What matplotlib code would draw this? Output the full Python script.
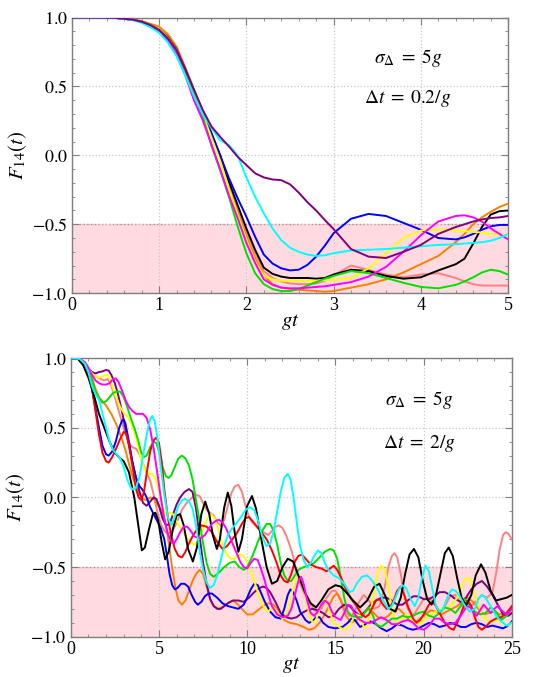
import numpy as np
import matplotlib
matplotlib.use("Agg")
import matplotlib.pyplot as plt
from matplotlib.ticker import MultipleLocator, FixedLocator

# ---------------- top panel data (sigma = 5g, dt = 0.2/g) ----------------
t_top = [0, 0.3, 0.5, 0.7, 0.8, 0.9, 1.0, 1.1, 1.2, 1.3, 1.4, 1.5, 1.6, 1.7, 1.8, 1.9,
         2.0, 2.1, 2.2, 2.3, 2.4, 2.5, 2.6, 2.7, 2.8, 2.9, 3.0, 3.2, 3.4, 3.6, 3.8,
         4.0, 4.2, 4.4, 4.5, 4.6, 4.7, 4.8, 4.9, 5.0]

orange_top = [1.0, 1.0, 0.998, 0.987, 0.975, 0.955, 0.935, 0.88, 0.79, 0.64, 0.48, 0.32,
              0.15, -0.01, -0.22, -0.40, -0.59, -0.745, -0.87, -0.935, -0.96, -0.97, -0.975,
              -0.98, -0.985, -0.99, -0.985, -0.96, -0.935, -0.90, -0.85, -0.79, -0.73, -0.63,
              -0.57, -0.50, -0.45, -0.41, -0.375, -0.35]
black_top = [1.0, 1.0, 0.998, 0.985, 0.97, 0.948, 0.915, 0.86, 0.77, 0.62, 0.46, 0.31,
             0.16, 0.0, -0.19, -0.36, -0.53, -0.685, -0.815, -0.86, -0.88, -0.89, -0.89,
             -0.89, -0.895, -0.89, -0.865, -0.83, -0.84, -0.875, -0.895, -0.885, -0.835, -0.79,
             -0.75, -0.64, -0.52, -0.43, -0.405, -0.40]
yellow_top = [1.0, 1.0, 0.998, 0.985, 0.97, 0.948, 0.915, 0.855, 0.765, 0.615, 0.455, 0.30,
              0.13, -0.04, -0.24, -0.43, -0.61, -0.77, -0.875, -0.90, -0.91, -0.91, -0.91,
              -0.91, -0.91, -0.905, -0.905, -0.89, -0.82, -0.71, -0.60, -0.545, -0.54, -0.545,
              -0.55, -0.555, -0.56, -0.57, -0.575, -0.58]
salmon_top = [1.0, 1.0, 0.998, 0.985, 0.97, 0.946, 0.91, 0.85, 0.76, 0.61, 0.45, 0.30,
              0.145, -0.02, -0.21, -0.38, -0.56, -0.71, -0.84, -0.89, -0.915, -0.93, -0.935,
              -0.935, -0.93, -0.91, -0.87, -0.80, -0.83, -0.865, -0.885, -0.865, -0.855, -0.89,
              -0.915, -0.935, -0.945, -0.945, -0.945, -0.945]
blue_top = [1.0, 1.0, 0.998, 0.985, 0.97, 0.946, 0.91, 0.85, 0.765, 0.625, 0.47, 0.32,
            0.16, 0.0, -0.165, -0.31, -0.445, -0.59, -0.72, -0.785, -0.82, -0.835, -0.83,
            -0.795, -0.735, -0.655, -0.565, -0.46, -0.425, -0.44, -0.49, -0.54, -0.60, -0.61,
            -0.595, -0.57, -0.54, -0.515, -0.505, -0.505]
purple_top = [1.0, 1.0, 0.998, 0.985, 0.97, 0.946, 0.91, 0.85, 0.765, 0.625, 0.475, 0.33,
              0.21, 0.135, 0.065, -0.01, -0.07, -0.13, -0.16, -0.175, -0.18, -0.21, -0.27,
              -0.34, -0.40, -0.47, -0.535, -0.68, -0.735, -0.745, -0.70, -0.65, -0.57, -0.52,
              -0.50, -0.48, -0.465, -0.455, -0.45, -0.44]
green_top = [1.0, 1.0, 0.998, 0.985, 0.97, 0.946, 0.91, 0.85, 0.755, 0.605, 0.44, 0.28,
             0.07, -0.11, -0.30, -0.515, -0.71, -0.855, -0.935, -0.97, -0.985, -0.985, -0.97,
             -0.945, -0.92, -0.895, -0.875, -0.84, -0.855, -0.89, -0.925, -0.955, -0.965, -0.94,
             -0.915, -0.885, -0.85, -0.83, -0.84, -0.865]
magenta_top = [1.0, 1.0, 0.998, 0.984, 0.968, 0.94, 0.905, 0.835, 0.735, 0.58, 0.40, 0.255,
               0.08, -0.10, -0.29, -0.455, -0.635, -0.78, -0.90, -0.94, -0.96, -0.965, -0.965,
               -0.96, -0.955, -0.95, -0.94, -0.92, -0.88, -0.81, -0.70, -0.58, -0.48, -0.44,
               -0.435, -0.45, -0.48, -0.53, -0.57, -0.61]
cyan_top = [1.0, 1.0, 0.997, 0.982, 0.962, 0.93, 0.89, 0.82, 0.72, 0.58, 0.43, 0.30,
            0.20, 0.11, 0.075, 0.0, -0.16, -0.30, -0.42, -0.53, -0.615, -0.67, -0.70,
            -0.72, -0.73, -0.725, -0.71, -0.69, -0.685, -0.68, -0.67, -0.66, -0.65, -0.645,
            -0.64, -0.635, -0.63, -0.62, -0.60, -0.57]

# ---------------- bottom panel data (sigma = 5g, dt = 2/g), (gt, F) pairs ----------------
black_bot = [(0, 1.0), (0.4, 0.995), (0.7, 0.95), (1.0, 0.86), (1.3, 0.74), (1.6, 0.60),
             (1.9, 0.50), (2.2, 0.40), (2.5, 0.32), (2.8, 0.28), (3.0, 0.26), (3.3, 0.18),
             (3.6, 0.0), (3.85, -0.22), (4.03, -0.38), (4.2, -0.36), (4.45, -0.22),
             (4.65, -0.12), (4.8, -0.11), (4.95, -0.16), (5.15, -0.32), (5.35, -0.445),
             (5.55, -0.39), (5.8, -0.22), (6.0, -0.13), (6.2, -0.12), (6.4, -0.2),
             (6.65, -0.37), (6.92, -0.46), (7.15, -0.36), (7.4, -0.12), (7.62, -0.03),
             (7.85, -0.12), (8.05, -0.27), (8.28, -0.37), (8.45, -0.3), (8.7, -0.07),
             (8.9, 0.035), (9.1, -0.06), (9.3, -0.26), (9.5, -0.39), (9.7, -0.3),
             (10.0, -0.06), (10.27, 0.01), (10.5, -0.08), (10.8, -0.3), (11.1, -0.5),
             (11.4, -0.62), (11.7, -0.6), (12.0, -0.5), (12.3, -0.44), (12.6, -0.46),
             (12.9, -0.56), (13.3, -0.69), (13.6, -0.76), (13.9, -0.79), (14.2, -0.74),
             (14.6, -0.66), (15.0, -0.63), (15.3, -0.64), (15.6, -0.68), (16.0, -0.74),
             (16.4, -0.79), (16.8, -0.74), (17.2, -0.64), (17.5, -0.62), (17.8, -0.7),
             (18.1, -0.8), (18.4, -0.82), (18.7, -0.72), (18.95, -0.55), (19.2, -0.41),
             (19.45, -0.37), (19.7, -0.43), (19.95, -0.6), (20.2, -0.73), (20.45, -0.77),
             (20.7, -0.7), (20.95, -0.55), (21.2, -0.4), (21.42, -0.36), (21.65, -0.42),
             (21.9, -0.58), (22.15, -0.72), (22.4, -0.78), (22.7, -0.7), (22.95, -0.56),
             (23.25, -0.48), (23.5, -0.54), (23.8, -0.67), (24.1, -0.74), (24.4, -0.73),
             (24.7, -0.72), (25.0, -0.7)]

red_bot = [(0, 1.0), (0.5, 0.995), (0.8, 0.96), (1.0, 0.9), (1.2, 0.79), (1.4, 0.62),
           (1.6, 0.45), (1.8, 0.32), (2.0, 0.26), (2.15, 0.25), (2.35, 0.29), (2.6, 0.36),
           (2.8, 0.42), (3.0, 0.47), (3.15, 0.46), (3.3, 0.38), (3.5, 0.22), (3.7, 0.06),
           (3.85, 0.0), (4.0, -0.02), (4.15, 0.04), (4.3, 0.17), (4.5, 0.33), (4.7, 0.41),
           (4.85, 0.43), (5.0, 0.39), (5.15, 0.26), (5.3, 0.06), (5.5, -0.14), (5.7, -0.28),
           (5.9, -0.37), (6.1, -0.42), (6.3, -0.43), (6.5, -0.39), (6.7, -0.33), (6.9, -0.28),
           (7.1, -0.24), (7.4, -0.2), (7.7, -0.21), (8.0, -0.25), (8.3, -0.32), (8.6, -0.37),
           (8.85, -0.35), (9.1, -0.31), (9.4, -0.26), (9.7, -0.19), (9.9, -0.15),
           (10.1, -0.14), (10.3, -0.17), (10.5, -0.2), (10.8, -0.25), (11.1, -0.3),
           (11.4, -0.38), (11.7, -0.48), (11.9, -0.56), (12.1, -0.6), (12.3, -0.61),
           (12.5, -0.55), (12.7, -0.46), (12.9, -0.42), (13.1, -0.41), (13.3, -0.44),
           (13.6, -0.48), (13.9, -0.5), (14.2, -0.51), (14.5, -0.53), (14.7, -0.51),
           (14.9, -0.49), (15.1, -0.52), (15.3, -0.57), (15.6, -0.66), (15.9, -0.73),
           (16.2, -0.78), (16.5, -0.84), (16.7, -0.86), (16.9, -0.84), (17.1, -0.79),
           (17.3, -0.74), (17.5, -0.73), (17.7, -0.77), (17.9, -0.8), (18.1, -0.79),
           (18.3, -0.74), (18.5, -0.67), (18.7, -0.64), (18.9, -0.7), (19.1, -0.78),
           (19.4, -0.87), (19.6, -0.9), (19.8, -0.88), (20.0, -0.84), (20.3, -0.77),
           (20.5, -0.75), (20.7, -0.78), (20.9, -0.83), (21.2, -0.9), (21.5, -0.94),
           (21.7, -0.95), (21.9, -0.9), (22.1, -0.84), (22.3, -0.77), (22.5, -0.74),
           (22.7, -0.78), (22.9, -0.86), (23.1, -0.93), (23.3, -0.95), (23.5, -0.93),
           (23.8, -0.89), (24.1, -0.87), (24.4, -0.86), (24.7, -0.83), (25.0, -0.78)]

blue_bot = [(0, 1.0), (0.5, 0.995), (0.8, 0.96), (1.0, 0.9), (1.2, 0.78), (1.4, 0.64),
            (1.6, 0.5), (1.8, 0.37), (2.0, 0.31), (2.15, 0.3), (2.35, 0.33), (2.55, 0.4),
            (2.75, 0.5), (2.9, 0.55), (3.0, 0.56), (3.1, 0.53), (3.3, 0.4), (3.5, 0.25),
            (3.7, 0.14), (3.9, 0.08), (4.1, 0.05), (4.3, 0.0), (4.5, -0.07), (4.7, -0.12),
            (4.9, -0.17), (5.1, -0.22), (5.3, -0.3), (5.45, -0.42), (5.6, -0.55),
            (5.75, -0.63), (5.9, -0.66), (6.05, -0.65), (6.25, -0.62), (6.45, -0.62),
            (6.65, -0.64), (6.85, -0.7), (7.05, -0.75), (7.2, -0.77), (7.4, -0.75),
            (7.6, -0.71), (7.8, -0.69), (8.0, -0.69), (8.3, -0.72), (8.6, -0.76),
            (8.9, -0.78), (9.2, -0.79), (9.5, -0.8), (9.8, -0.77), (10.0, -0.72),
            (10.2, -0.66), (10.4, -0.62), (10.6, -0.63), (10.8, -0.69), (11.0, -0.75),
            (11.3, -0.82), (11.6, -0.86), (11.9, -0.87), (12.1, -0.8), (12.3, -0.7),
            (12.45, -0.66), (12.6, -0.68), (12.8, -0.74), (13.0, -0.82), (13.3, -0.88),
            (13.5, -0.9), (13.7, -0.89), (13.9, -0.86), (14.1, -0.86), (14.3, -0.9),
            (14.6, -0.93), (15.0, -0.94), (15.4, -0.93), (15.7, -0.9), (15.9, -0.87),
            (16.1, -0.88), (16.4, -0.93), (16.7, -0.91), (17.0, -0.89), (17.3, -0.91),
            (17.6, -0.94), (17.9, -0.96), (18.2, -0.94), (18.5, -0.91), (18.8, -0.92),
            (19.1, -0.94), (19.4, -0.95), (19.7, -0.94), (20.0, -0.92), (20.3, -0.9),
            (20.6, -0.91), (20.9, -0.93), (21.2, -0.92), (21.5, -0.9), (21.8, -0.91),
            (22.1, -0.93), (22.4, -0.93), (22.7, -0.91), (23.0, -0.9), (23.3, -0.91),
            (23.6, -0.93), (23.9, -0.92), (24.2, -0.93), (24.5, -0.94), (24.8, -0.92),
            (25.0, -0.89)]

green_bot = [(0, 1.0), (0.5, 0.995), (0.8, 0.96), (1.0, 0.92), (1.2, 0.84), (1.4, 0.76),
             (1.6, 0.71), (1.8, 0.68), (2.0, 0.69), (2.2, 0.72), (2.4, 0.75), (2.6, 0.76),
             (2.8, 0.76), (3.0, 0.72), (3.2, 0.65), (3.4, 0.57), (3.6, 0.5), (3.8, 0.42),
             (4.0, 0.32), (4.15, 0.29), (4.3, 0.3), (4.5, 0.36), (4.7, 0.4), (4.85, 0.39),
             (5.0, 0.33), (5.2, 0.22), (5.4, 0.15), (5.55, 0.14), (5.7, 0.16), (5.9, 0.22),
             (6.1, 0.28), (6.3, 0.3), (6.5, 0.28), (6.7, 0.23), (6.9, 0.13), (7.1, -0.02),
             (7.3, -0.17), (7.5, -0.33), (7.7, -0.47), (7.9, -0.55), (8.1, -0.57),
             (8.4, -0.54), (8.7, -0.5), (9.0, -0.47), (9.3, -0.46), (9.55, -0.5),
             (9.8, -0.52), (10.0, -0.5), (10.3, -0.42), (10.6, -0.32), (10.9, -0.23),
             (11.1, -0.19), (11.3, -0.19), (11.5, -0.24), (11.7, -0.34), (11.9, -0.47),
             (12.1, -0.56), (12.3, -0.6), (12.5, -0.6), (12.7, -0.56), (12.9, -0.52),
             (13.2, -0.5), (13.5, -0.49), (13.8, -0.47), (14.1, -0.43), (14.4, -0.39),
             (14.7, -0.37), (14.9, -0.38), (15.1, -0.44), (15.3, -0.57), (15.5, -0.72),
             (15.7, -0.82), (15.9, -0.85), (16.2, -0.86), (16.5, -0.86), (16.7, -0.82),
             (16.9, -0.79), (17.1, -0.84), (17.3, -0.91), (17.6, -0.93), (17.9, -0.9),
             (18.2, -0.87), (18.5, -0.87), (18.8, -0.85), (19.1, -0.86), (19.4, -0.85),
             (19.7, -0.83), (20.0, -0.82), (20.3, -0.85), (20.6, -0.86), (20.9, -0.83),
             (21.2, -0.79), (21.5, -0.8), (21.8, -0.83), (22.1, -0.78), (22.35, -0.73),
             (22.6, -0.77), (22.9, -0.82), (23.2, -0.84), (23.5, -0.83), (23.8, -0.79),
             (24.1, -0.82), (24.4, -0.88), (24.7, -0.85), (25.0, -0.8)]

yellow_bot = [(0, 1.0), (0.5, 0.995), (0.8, 0.97), (1.0, 0.93), (1.2, 0.89), (1.4, 0.87),
              (1.6, 0.86), (1.8, 0.87), (2.0, 0.88), (2.15, 0.87), (2.35, 0.8), (2.6, 0.71),
              (2.8, 0.65), (3.0, 0.61), (3.2, 0.58), (3.4, 0.54), (3.6, 0.48), (3.8, 0.38),
              (4.0, 0.27), (4.2, 0.2), (4.4, 0.17), (4.6, 0.17), (4.8, 0.14), (5.0, 0.05),
              (5.2, -0.07), (5.4, -0.12), (5.6, -0.11), (5.8, -0.12), (6.0, -0.17),
              (6.3, -0.24), (6.6, -0.29), (6.85, -0.33), (7.05, -0.34), (7.25, -0.3),
              (7.5, -0.22), (7.75, -0.15), (7.95, -0.12), (8.15, -0.15), (8.4, -0.25),
              (8.65, -0.36), (8.9, -0.42), (9.1, -0.44), (9.3, -0.44), (9.5, -0.41),
              (9.7, -0.41), (9.9, -0.44), (10.1, -0.5), (10.4, -0.6), (10.7, -0.72),
              (11.0, -0.8), (11.2, -0.82), (11.4, -0.79), (11.6, -0.8), (11.8, -0.84),
              (12.0, -0.87), (12.2, -0.85), (12.4, -0.76), (12.6, -0.65), (12.8, -0.58),
              (12.95, -0.56), (13.1, -0.6), (13.3, -0.7), (13.5, -0.83), (13.7, -0.9),
              (13.9, -0.88), (14.1, -0.8), (14.3, -0.73), (14.5, -0.74), (14.7, -0.83),
              (14.9, -0.9), (15.2, -0.93), (15.5, -0.95), (15.8, -0.93), (16.0, -0.87),
              (16.2, -0.84), (16.4, -0.85), (16.6, -0.93), (16.8, -0.93), (17.0, -0.82),
              (17.2, -0.67), (17.4, -0.54), (17.6, -0.49), (17.8, -0.52), (18.0, -0.64),
              (18.2, -0.8), (18.4, -0.89), (18.6, -0.91), (18.8, -0.87), (19.0, -0.84),
              (19.2, -0.86), (19.5, -0.9), (19.8, -0.91), (20.1, -0.87), (20.4, -0.84),
              (20.7, -0.82), (21.0, -0.8), (21.3, -0.79), (21.6, -0.77), (21.9, -0.72),
              (22.15, -0.64), (22.4, -0.58), (22.6, -0.58), (22.8, -0.65), (23.0, -0.74),
              (23.3, -0.84), (23.6, -0.88), (23.9, -0.89), (24.2, -0.88), (24.5, -0.9),
              (24.8, -0.92), (25.0, -0.9)]

orange_bot = [(0, 1.0), (0.5, 0.995), (0.8, 0.96), (1.0, 0.92), (1.2, 0.86), (1.4, 0.78),
              (1.6, 0.72), (1.8, 0.69), (2.0, 0.66), (2.3, 0.6), (2.6, 0.52), (2.9, 0.42),
              (3.1, 0.34), (3.3, 0.24), (3.5, 0.15), (3.7, 0.08), (3.9, 0.02), (4.1, -0.01),
              (4.3, -0.02), (4.5, 0.0), (4.7, -0.01), (4.9, -0.05), (5.1, -0.08),
              (5.3, -0.15), (5.5, -0.28), (5.65, -0.42), (5.8, -0.55), (5.95, -0.66),
              (6.1, -0.74), (6.3, -0.77), (6.5, -0.74), (6.7, -0.67), (6.9, -0.6),
              (7.1, -0.55), (7.3, -0.52), (7.5, -0.55), (7.7, -0.64), (7.9, -0.73),
              (8.1, -0.78), (8.4, -0.8), (8.7, -0.78), (9.0, -0.75), (9.2, -0.74),
              (9.4, -0.76), (9.7, -0.8), (10.0, -0.84), (10.3, -0.84), (10.6, -0.81),
              (10.9, -0.78), (11.2, -0.76), (11.5, -0.77), (11.8, -0.82), (12.1, -0.88),
              (12.4, -0.9), (12.8, -0.91), (13.2, -0.93), (13.5, -0.95), (13.8, -0.94),
              (14.1, -0.9), (14.4, -0.84), (14.7, -0.76), (14.9, -0.71), (15.1, -0.69),
              (15.3, -0.74), (15.6, -0.85), (15.9, -0.9), (16.2, -0.88), (16.5, -0.84),
              (16.8, -0.8), (17.1, -0.82), (17.4, -0.86), (17.7, -0.87), (18.0, -0.85),
              (18.3, -0.81), (18.6, -0.8), (18.9, -0.84), (19.2, -0.88), (19.5, -0.9),
              (19.8, -0.87), (20.1, -0.84), (20.4, -0.81), (20.7, -0.82), (21.0, -0.84),
              (21.3, -0.82), (21.6, -0.8), (21.9, -0.78), (22.2, -0.75), (22.5, -0.72),
              (22.8, -0.75), (23.1, -0.8), (23.4, -0.84), (23.7, -0.83), (24.0, -0.82),
              (24.3, -0.84), (24.6, -0.84), (25.0, -0.83)]

purple_bot = [(0, 1.0), (0.5, 0.995), (0.8, 0.97), (1.0, 0.93), (1.2, 0.9), (1.4, 0.89),
              (1.6, 0.9), (1.8, 0.905), (2.0, 0.915), (2.15, 0.91), (2.3, 0.88), (2.5, 0.82),
              (2.7, 0.73), (2.9, 0.62), (3.1, 0.49), (3.3, 0.37), (3.5, 0.25), (3.7, 0.14),
              (3.9, 0.04), (4.1, -0.04), (4.3, -0.06), (4.5, -0.03), (4.7, 0.0),
              (4.85, -0.01), (5.0, -0.06), (5.2, -0.15), (5.4, -0.2), (5.6, -0.19),
              (5.8, -0.12), (6.0, -0.05), (6.2, 0.0), (6.45, 0.04), (6.7, 0.06), (6.9, 0.04),
              (7.1, -0.08), (7.3, -0.28), (7.5, -0.47), (7.7, -0.62), (7.9, -0.73),
              (8.1, -0.78), (8.3, -0.8), (8.5, -0.8), (8.7, -0.78), (8.9, -0.76),
              (9.2, -0.74), (9.5, -0.74), (9.8, -0.75), (10.1, -0.72), (10.4, -0.68),
              (10.7, -0.65), (10.9, -0.64), (11.1, -0.65), (11.3, -0.68), (11.6, -0.75),
              (11.9, -0.83), (12.2, -0.86), (12.5, -0.87), (12.8, -0.86), (13.1, -0.83),
              (13.4, -0.81), (13.7, -0.8), (14.0, -0.81), (14.3, -0.83), (14.6, -0.86),
              (14.9, -0.85), (15.2, -0.8), (15.5, -0.77), (15.8, -0.78), (16.1, -0.82),
              (16.4, -0.85), (16.7, -0.82), (17.0, -0.77), (17.3, -0.74), (17.6, -0.72),
              (17.9, -0.72), (18.2, -0.74), (18.5, -0.77), (18.8, -0.77), (19.1, -0.74),
              (19.4, -0.71), (19.7, -0.71), (20.0, -0.73), (20.3, -0.73), (20.6, -0.71),
              (20.9, -0.68), (21.2, -0.68), (21.5, -0.7), (21.8, -0.73), (22.1, -0.75),
              (22.4, -0.72), (22.7, -0.66), (23.0, -0.62), (23.3, -0.6), (23.6, -0.64),
              (23.9, -0.7), (24.2, -0.77), (24.5, -0.84), (24.8, -0.85), (25.0, -0.83)]

cyan_bot = [(0, 1.0), (0.5, 0.995), (0.8, 0.96), (1.0, 0.9), (1.2, 0.8), (1.4, 0.74),
            (1.6, 0.7), (1.8, 0.6), (2.0, 0.5), (2.2, 0.4), (2.4, 0.34), (2.6, 0.31),
            (2.8, 0.28), (3.0, 0.22), (3.2, 0.13), (3.4, 0.07), (3.55, 0.055), (3.7, 0.07),
            (3.9, 0.15), (4.1, 0.3), (4.3, 0.45), (4.5, 0.56), (4.62, 0.585), (4.75, 0.55),
            (4.9, 0.44), (5.1, 0.22), (5.3, 0.02), (5.5, -0.14), (5.7, -0.2), (5.9, -0.14),
            (6.1, -0.06), (6.3, -0.02), (6.5, -0.01), (6.7, -0.03), (6.9, -0.08),
            (7.1, -0.2), (7.3, -0.38), (7.5, -0.52), (7.7, -0.61), (7.9, -0.65),
            (8.1, -0.63), (8.3, -0.56), (8.5, -0.45), (8.7, -0.35), (8.9, -0.27),
            (9.1, -0.23), (9.3, -0.2), (9.6, -0.15), (9.9, -0.09), (10.15, -0.07),
            (10.4, -0.09), (10.6, -0.16), (10.85, -0.28), (11.1, -0.35), (11.3, -0.33),
            (11.5, -0.24), (11.7, -0.1), (11.9, 0.04), (12.1, 0.14), (12.3, 0.17),
            (12.45, 0.13), (12.6, 0.02), (12.8, -0.17), (13.0, -0.35), (13.2, -0.45),
            (13.4, -0.5), (13.6, -0.47), (13.8, -0.42), (14.0, -0.38), (14.2, -0.4),
            (14.4, -0.47), (14.6, -0.52), (14.9, -0.56), (15.2, -0.58), (15.5, -0.62),
            (15.8, -0.68), (16.0, -0.67), (16.2, -0.62), (16.5, -0.57), (16.8, -0.56),
            (17.1, -0.6), (17.4, -0.66), (17.7, -0.74), (18.0, -0.8), (18.2, -0.78),
            (18.4, -0.72), (18.6, -0.66), (18.8, -0.63), (19.0, -0.65), (19.3, -0.74),
            (19.5, -0.78), (19.7, -0.72), (19.9, -0.58), (20.1, -0.49), (20.3, -0.53),
            (20.5, -0.66), (20.7, -0.78), (20.9, -0.82), (21.1, -0.8), (21.4, -0.7),
            (21.6, -0.66), (21.8, -0.67), (22.0, -0.7), (22.3, -0.77), (22.6, -0.82),
            (22.9, -0.8), (23.1, -0.73), (23.3, -0.7), (23.5, -0.72), (23.8, -0.78),
            (24.1, -0.85), (24.4, -0.89), (24.7, -0.92), (25.0, -0.9)]

magenta_bot = [(0, 1.0), (0.5, 0.995), (0.8, 0.97), (1.0, 0.93), (1.2, 0.88), (1.4, 0.84),
               (1.6, 0.82), (1.8, 0.81), (2.0, 0.81), (2.2, 0.82), (2.4, 0.85), (2.55, 0.855),
               (2.7, 0.83), (2.9, 0.77), (3.1, 0.7), (3.3, 0.65), (3.5, 0.62), (3.7, 0.6),
               (3.9, 0.6), (4.1, 0.6), (4.3, 0.57), (4.5, 0.49), (4.7, 0.35), (4.9, 0.18),
               (5.1, 0.0), (5.3, -0.15), (5.5, -0.26), (5.7, -0.32), (5.85, -0.33),
               (6.0, -0.3), (6.2, -0.25), (6.4, -0.21), (6.6, -0.21), (6.8, -0.24),
               (7.0, -0.28), (7.2, -0.29), (7.4, -0.29), (7.6, -0.27), (7.8, -0.23),
               (8.0, -0.19), (8.2, -0.17), (8.4, -0.16), (8.6, -0.18), (8.8, -0.22),
               (9.0, -0.28), (9.2, -0.34), (9.4, -0.4), (9.6, -0.46), (9.8, -0.5),
               (10.0, -0.51), (10.2, -0.47), (10.4, -0.44), (10.6, -0.45), (10.8, -0.52),
               (11.0, -0.6), (11.2, -0.7), (11.4, -0.78), (11.7, -0.84), (12.0, -0.86),
               (12.3, -0.85), (12.5, -0.8), (12.7, -0.7), (12.9, -0.6), (13.05, -0.57),
               (13.2, -0.62), (13.4, -0.74), (13.6, -0.83), (13.8, -0.85), (14.0, -0.82),
               (14.2, -0.77), (14.4, -0.74), (14.6, -0.76), (14.8, -0.82), (15.0, -0.86),
               (15.3, -0.88), (15.5, -0.83), (15.7, -0.77), (15.9, -0.78), (16.1, -0.84),
               (16.4, -0.88), (16.7, -0.9), (17.0, -0.9), (17.3, -0.88), (17.6, -0.86),
               (17.9, -0.88), (18.2, -0.91), (18.5, -0.91), (18.8, -0.89), (19.1, -0.88),
               (19.4, -0.9), (19.7, -0.94), (20.0, -0.95), (20.3, -0.92), (20.6, -0.87),
               (20.9, -0.87), (21.2, -0.9), (21.5, -0.91), (21.8, -0.9), (22.1, -0.85),
               (22.4, -0.79), (22.6, -0.78), (22.8, -0.82), (23.0, -0.85), (23.2, -0.81),
               (23.4, -0.77), (23.6, -0.8), (23.8, -0.83), (24.0, -0.8), (24.2, -0.78),
               (24.4, -0.81), (24.7, -0.84), (25.0, -0.8)]

salmon_bot = [(0, 1.0), (0.5, 0.995), (0.8, 0.97), (1.0, 0.93), (1.2, 0.89), (1.4, 0.87),
              (1.7, 0.85), (1.9, 0.84), (2.1, 0.85), (2.3, 0.8), (2.5, 0.72), (2.7, 0.63),
              (2.9, 0.54), (3.1, 0.46), (3.3, 0.39), (3.5, 0.36), (3.7, 0.35), (3.9, 0.31),
              (4.1, 0.24), (4.3, 0.18), (4.5, 0.12), (4.7, 0.02), (4.9, -0.1), (5.1, -0.19),
              (5.3, -0.24), (5.5, -0.26), (5.7, -0.25), (5.9, -0.21), (6.1, -0.15),
              (6.3, -0.09), (6.5, -0.05), (6.8, -0.01), (7.05, 0.02), (7.3, 0.01),
              (7.5, -0.04), (7.7, -0.09), (7.9, -0.11), (8.1, -0.13), (8.3, -0.18),
              (8.5, -0.2), (8.7, -0.16), (8.9, -0.06), (9.1, 0.03), (9.3, 0.08), (9.5, 0.09),
              (9.7, 0.04), (9.9, -0.06), (10.1, -0.14), (10.3, -0.18), (10.6, -0.22),
              (10.9, -0.25), (11.2, -0.27), (11.4, -0.24), (11.6, -0.21), (11.8, -0.2),
              (12.0, -0.22), (12.2, -0.27), (12.4, -0.34), (12.6, -0.42), (12.8, -0.54),
              (13.0, -0.62), (13.2, -0.68), (13.5, -0.75), (13.8, -0.81), (14.0, -0.82),
              (14.2, -0.8), (14.5, -0.72), (14.8, -0.67), (15.0, -0.67), (15.3, -0.73),
              (15.6, -0.82), (15.8, -0.85), (16.0, -0.84), (16.3, -0.76), (16.6, -0.7),
              (16.9, -0.74), (17.2, -0.8), (17.5, -0.78), (17.8, -0.64), (18.0, -0.5),
              (18.2, -0.42), (18.35, -0.4), (18.5, -0.43), (18.7, -0.55), (18.9, -0.7),
              (19.1, -0.8), (19.4, -0.85), (19.7, -0.79), (20.0, -0.73), (20.3, -0.72),
              (20.6, -0.76), (20.9, -0.82), (21.2, -0.78), (21.5, -0.71), (21.8, -0.7),
              (22.1, -0.76), (22.4, -0.8), (22.7, -0.78), (23.0, -0.74), (23.3, -0.7),
              (23.6, -0.72), (23.9, -0.68), (24.1, -0.55), (24.3, -0.38), (24.5, -0.27),
              (24.65, -0.25), (24.8, -0.26), (25.0, -0.3)]

# Mathematica style named colours
C = {"black": "#000000", "red": "#ff0000", "green": "#00e000", "blue": "#0000ff",
     "yellow": "#ffff00", "orange": "#ff8000", "purple": "#800080", "cyan": "#00ffff",
     "magenta": "#ff00ff", "salmon": "#ff8080"}

plt.rcParams["font.family"] = ["Liberation Serif", "DejaVu Serif"]
plt.rcParams["mathtext.fontset"] = "stix"

fig = plt.figure(figsize=(5.36, 6.77), dpi=100)
ax1 = fig.add_axes([0.134, 0.567, 0.814, 0.407])
ax2 = fig.add_axes([0.132, 0.0595, 0.823, 0.4115])

frame = "#7f7f7f"


def style(ax, xmax, xmajor, xminor):
    ax.set_xlim(0, xmax)
    ax.set_ylim(-1, 1)
    ax.axhspan(-1, -0.5, color="#ffdbe1", zorder=0, lw=0)
    ax.axhline(-0.5, color="#d07080", lw=1.0, ls=":", zorder=1)
    ax.xaxis.set_major_locator(MultipleLocator(xmajor))
    ax.xaxis.set_minor_locator(MultipleLocator(xminor))
    ax.yaxis.set_major_locator(FixedLocator([-1.0, -0.5, 0.0, 0.5, 1.0]))
    ax.yaxis.set_minor_locator(MultipleLocator(0.1))
    ax.set_yticklabels(["$-1.0$", "$-0.5$", "$0.0$", "$0.5$", "$1.0$"])
    ax.grid(True, which="major", color="#c8c8c8", ls=":", lw=0.9)
    ax.tick_params(which="both", direction="in", top=True, right=True, color=frame,
                   labelsize=13, pad=3)
    ax.tick_params(which="major", length=5, width=0.8)
    ax.tick_params(which="minor", length=2.5, width=0.6)
    for s in ax.spines.values():
        s.set_color(frame)
        s.set_linewidth(1.0)
    ax.set_xlabel("$gt$", fontsize=15, labelpad=-2)
    ax.set_ylabel("$F_{14}(t)$", fontsize=15, labelpad=2)


style(ax1, 5, 1, 0.2)
style(ax2, 25, 5, 1)

lw = 1.4
top_series = [("salmon", salmon_top), ("orange", orange_top), ("black", black_top),
              ("blue", blue_top), ("yellow", yellow_top), ("green", green_top),
              ("magenta", magenta_top), ("cyan", cyan_top), ("purple", purple_top)]
for name, vals in top_series:
    ax1.plot(t_top, vals, color=C[name], lw=lw, zorder=3)

bottom_series = [("salmon", salmon_bot), ("orange", orange_bot), ("purple", purple_bot),
                 ("blue", blue_bot), ("yellow", yellow_bot), ("green", green_bot),
                 ("red", red_bot), ("black", black_bot), ("magenta", magenta_bot),
                 ("cyan", cyan_bot)]
for name, pts in bottom_series:
    tt, vals = zip(*pts)
    ax2.plot(tt, vals, color=C[name], lw=lw, zorder=3, solid_joinstyle="round")

ax1.text(0.77, 0.855, r"$\sigma_{\Delta}\;=\;5g$", transform=ax1.transAxes, fontsize=14,
         ha="center", va="center")
ax1.text(0.77, 0.705, r"$\Delta t\;=\;0.2/g$", transform=ax1.transAxes, fontsize=14,
         ha="center", va="center")
ax2.text(0.79, 0.85, r"$\sigma_{\Delta}\;=\;5g$", transform=ax2.transAxes, fontsize=14,
         ha="center", va="center")
ax2.text(0.79, 0.695, r"$\Delta t\;=\;2/g$", transform=ax2.transAxes, fontsize=14,
         ha="center", va="center")

fig.savefig("out.png", dpi=100)
